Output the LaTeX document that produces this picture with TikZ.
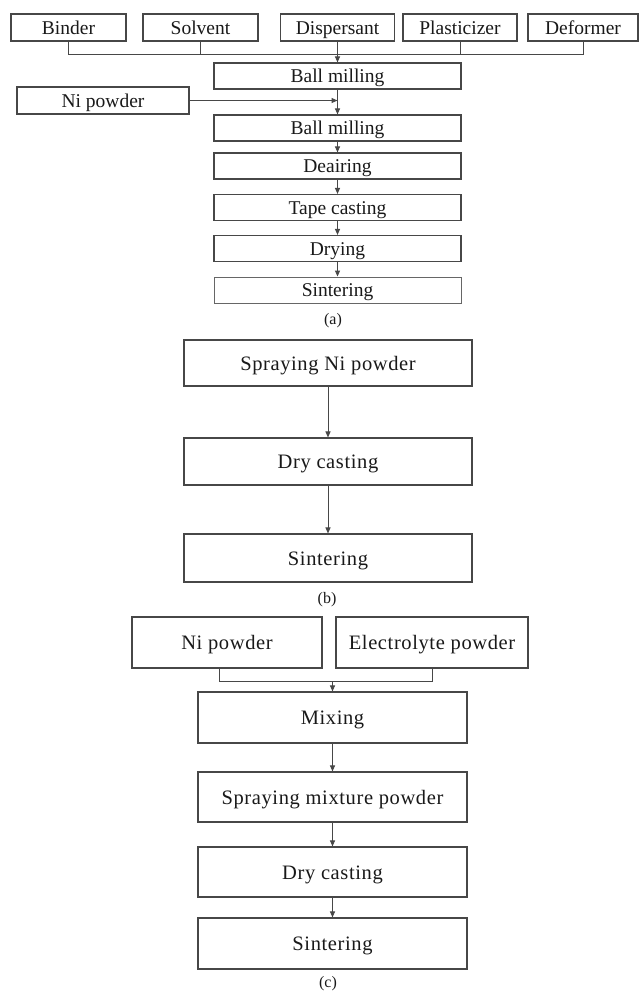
\documentclass[tikz,border=0pt]{standalone}
\usepackage{fontspec}
\setmainfont{Liberation Serif}
\newfontfamily\spacedserif[LetterSpace=3]{Liberation Serif}
\usetikzlibrary{arrows.meta}
\tikzset{
  boxa/.style={draw=black!72, line width=1.1pt, inner sep=0pt, minimum height=26pt,
    text height=16pt, text depth=3pt,
    font=\fontsize{19.5}{22}\selectfont, text=black!90},
  boxc/.style={draw=black!72, line width=1.1pt, inner sep=0pt, minimum width=269pt,
    minimum height=50pt, text height=17pt, text depth=3pt,
    font=\spacedserif\fontsize{20.5}{24}\selectfont, text=black!90},
  lbl/.style={inner sep=0pt, font=\fontsize{16}{18}\selectfont, text=black!90},
  conn/.style={draw=black!72, line width=1pt},
  arr/.style={conn, -{Triangle[length=6pt,width=5pt]}}
}
\begin{document}
\begin{tikzpicture}[x=1pt,y=-1pt]
\useasboundingbox (0,0) rectangle (643,993);
% ---------- (a) ----------
\node[boxa, minimum width=115pt, minimum height=27pt] (binder) at (68.5,27.5) {Binder};
\node[boxa, minimum width=115pt, minimum height=27pt] (solvent) at (200.5,27.5) {Solvent};
\node[boxa, minimum width=114pt, minimum height=27pt] (disp) at (337.5,27.5) {Dispersant};
\node[boxa, minimum width=114pt, minimum height=27pt] (plast) at (460,27.5) {Plasticizer};
\node[boxa, minimum width=110pt, minimum height=27pt] (deform) at (583,27.5) {Deformer};
\coordinate (ja) at (337.5,54);
\node[boxa, minimum width=247pt] (bm1) at (337.5,76) {Ball milling};
\node[boxa, minimum width=172pt, minimum height=27pt] (nip) at (103,100.5) {Ni powder};
\node[boxa, minimum width=247pt] (bm2) at (337.5,128) {Ball milling};
\node[boxa, minimum width=247pt] (dear) at (337.5,166) {Deairing};
\node[boxa, minimum width=247pt] (tape) at (337.5,207.5) {Tape casting};
\node[boxa, minimum width=247pt] (dry) at (337.5,248.5) {Drying};
\node[boxa, minimum width=247pt, draw=black!60, line width=0.9pt] (sinta) at (337.5,290) {Sintering};
\node[lbl] (la) at (333,321) {(a)};
\draw[conn] (binder.south) -- (binder.south |- ja) -- (deform.south |- ja) -- (deform.south);
\draw[conn] (solvent.south) -- (solvent.south |- ja);
\draw[conn] (plast.south) -- (plast.south |- ja);
\draw[conn] (disp.south) -- (ja);
\draw[arr] (ja) -- (bm1.north);
\draw[arr] (nip.east) -- (nip.east -| bm1.south);
\draw[arr] (bm1.south) -- (bm2.north);
\draw[arr] (bm2.south) -- (dear.north);
\draw[arr] (dear.south) -- (tape.north);
\draw[arr] (tape.south) -- (dry.north);
\draw[arr] (dry.south) -- (sinta.north);
% ---------- (b) ----------
\node[boxc, minimum width=288pt, minimum height=46pt] (spb) at (328,363) {Spraying Ni powder};
\node[boxc, minimum width=288pt, minimum height=47pt] (dcb) at (328,461.5) {Dry casting};
\node[boxc, minimum width=288pt, minimum height=48pt] (sib) at (328,558) {Sintering};
\node[lbl] (lb) at (327,600) {(b)};
\draw[arr] (spb.south) -- (dcb.north);
\draw[arr] (dcb.south) -- (sib.north);
% ---------- (c) ----------
\node[boxc, minimum width=190pt, minimum height=51pt] (nic) at (227,642.5) {Ni powder};
\node[boxc, minimum width=192pt, minimum height=51pt] (elc) at (432,642.5) {Electrolyte powder};
\coordinate (jc) at (332.5,681);
\node[boxc, minimum height=51pt] (mix) at (332.5,717.5) {Mixing};
\node[boxc] (spc) at (332.5,797) {Spraying mixture powder};
\node[boxc] (dcc) at (332.5,872) {Dry casting};
\node[boxc, minimum height=51pt] (sic) at (332.5,943.5) {Sintering};
\node[lbl] (lc) at (328,984) {(c)};
\draw[conn] ([xshift=-8pt]nic.south) -- ([xshift=-8pt]nic.south |- jc) -- (elc.south |- jc) -- (elc.south);
\draw[arr] (jc) -- (mix.north);
\draw[arr] (mix.south) -- (spc.north);
\draw[arr] (spc.south) -- (dcc.north);
\draw[arr] (dcc.south) -- (sic.north);
\end{tikzpicture}
\end{document}
